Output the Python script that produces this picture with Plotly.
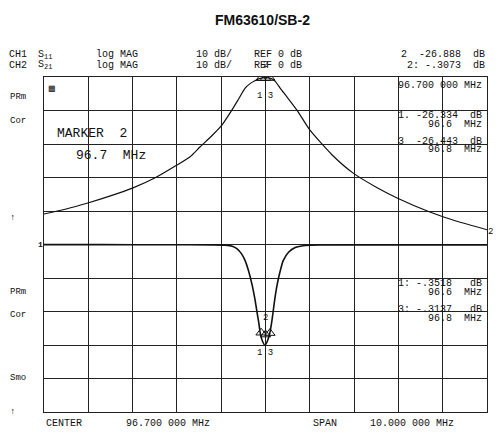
import plotly.graph_objects as go

W, H = 498, 441

# ---- data ----
# CH2 S21 (transmission, REF 0 dB at top line, 10 dB/div)
s21_freq = [91.70, 92.20, 92.69, 93.20, 93.71, 94.21, 94.70, 95.00, 95.22, 95.50, 95.72, 95.94,
            96.10, 96.24, 96.36, 96.46, 96.58, 96.70, 96.82, 96.92, 97.03, 97.20, 97.41, 97.70,
            98.20, 98.68, 99.20, 99.67, 100.41, 101.00, 101.70]
s21_db = [-40.9, -39.4, -37.6, -35.5, -33.1, -30.1, -26.3, -23.8, -20.9, -17.4, -14.3, -9.9,
          -6.4, -3.3, -1.9, -1.1, -0.4, -0.2, -0.4, -1.3, -3.3, -6.2, -9.9, -15.8,
          -23.2, -28.7, -32.9, -36.1, -40.3, -43.0, -45.6]

# CH1 S11 (reflection, REF 0 dB at centre line, 10 dB/div)
s11_freq = [91.70, 93.00, 94.50, 95.50, 95.79, 95.95, 96.06, 96.16, 96.24, 96.32, 96.40, 96.46,
            96.51, 96.55, 96.58, 96.63, 96.69, 96.75, 96.80, 96.84, 96.87, 96.91, 96.96,
            97.03, 97.10, 97.22, 97.37, 97.59, 98.00, 99.50, 101.70]
s11_db = [-0.05, -0.05, -0.08, -0.12, -0.2, -0.5, -1.3, -2.8, -4.8, -8.0, -12.2, -16.2,
          -20.3, -23.5, -26.3, -28.8, -30.1, -28.6, -26.3, -23.2, -20.3, -16.3, -12.2,
          -8.0, -4.8, -2.3, -0.9, -0.3, -0.15, -0.1, -0.1]

marker_freq = [96.6, 96.7, 96.8]
marker_s11 = [-26.334, -26.888, -26.443]
marker_s21 = [-0.3518, -0.3073, -0.3137]

center_mhz = 96.7
span_mhz = 10.0

# ---- figure ----
x0, x1 = 44, 487
y0, y1 = 77, 412

def px(x):
    return x / W

def py(y):
    return 1 - y / H

INK = "#111111"
FONT = "Liberation Mono"

fig = go.Figure()
fig.add_trace(go.Scatter(x=s21_freq, y=s21_db, yaxis="y2", mode="lines",
                         line=dict(color=INK, width=1.2, shape="spline", smoothing=0.6),
                         showlegend=False, hoverinfo="skip"))
fig.add_trace(go.Scatter(x=s11_freq, y=s11_db, yaxis="y", mode="lines",
                         line=dict(color=INK, width=1.6, shape="spline", smoothing=0.6),
                         showlegend=False, hoverinfo="skip"))
# marker symbols
fig.add_trace(go.Scatter(x=marker_freq, y=marker_s21, yaxis="y2", mode="markers",
                         marker=dict(symbol="triangle-up-open", size=9, color=INK, line=dict(width=1)),
                         showlegend=False, hoverinfo="skip"))
fig.add_trace(go.Scatter(x=marker_freq, y=marker_s11, yaxis="y", mode="markers",
                         marker=dict(symbol="triangle-up-open", size=9, color=INK, line=dict(width=1)),
                         showlegend=False, hoverinfo="skip"))

xr = [center_mhz - span_mhz / 2, center_mhz + span_mhz / 2]
fig.update_layout(
    width=W, height=H,
    margin=dict(l=0, r=0, t=0, b=0),
    paper_bgcolor="white", plot_bgcolor="white",
    xaxis=dict(domain=[px(x0), px(x1)], range=xr, tick0=xr[0], dtick=span_mhz / 10,
               showgrid=True, gridcolor="#222222", gridwidth=1, zeroline=False,
               showticklabels=False, ticks="", showline=True, linecolor="#222222",
               linewidth=1, mirror=True, fixedrange=True),
    yaxis=dict(domain=[py(y1), py(y0)], range=[-50, 50], dtick=10,
               showgrid=True, gridcolor="#222222", gridwidth=1, zeroline=False,
               showticklabels=False, ticks="", showline=True, linecolor="#222222",
               linewidth=1, mirror=True, fixedrange=True),
    yaxis2=dict(domain=[py(y1), py(y0)], range=[-100, 0], overlaying="y", side="right",
                showgrid=False, zeroline=False, showticklabels=False, ticks="",
                showline=False, fixedrange=True),
)

ann = []

def text(x, y, s, size=10, anchor="left", family=FONT, color=INK, **kw):
    ann.append(dict(x=px(x), y=py(y), xref="paper", yref="paper", text=s, showarrow=False,
                    xanchor=anchor, yanchor="middle",
                    font=dict(family=family, size=size, color=color), **kw))

# title
text(262, 20, "<b>FM63610/SB-2</b>", size=14, anchor="center", family="Liberation Sans")

# header rows
for yy, ch, s, val in [(55, "CH1", "S<sub>11</sub>", "2  -26.888  dB"),
                       (65, "CH2", "S<sub>21</sub>", "2: -.3073  dB")]:
    text(7, yy, ch)
    text(36, yy, s)
    text(94, yy, "log MAG")
    text(194, yy, "10 dB/")
    text(252, yy, "REF 0 dB")
    text(487, yy, val, anchor="right")

# left-side annotation labels
for yy, s in [(97, "PRm"), (121, "Cor"), (218, "↑"), (292, "PRm"), (315, "Cor"), (378, "Smo"), (412, "↑")]:
    text(8, yy, s, size=9)

# reference position indicators
text(40, 244, "<b>1</b>", size=8, anchor="center")
text(490, 232, "2", size=9, anchor="center")
text(52, 88, "▩", size=8, anchor="center")

# marker readouts (CH1)
text(484, 85, "96.700 000 MHz", anchor="right")
text(484, 115, "1. -26.334  dB", anchor="right", size=10)
text(484, 124, "96.6  MHz", anchor="right", size=10)
text(484, 141, "3  -26.443  dB", anchor="right", size=10)
text(484, 150, "96.8  MHz", anchor="right", size=10)
# marker readouts (CH2)
text(484, 283, "1: -.3518   dB", anchor="right", size=10)
text(484, 292, "96.6  MHz", anchor="right", size=10)
text(484, 309, "3: -.3137   dB", anchor="right", size=10)
text(484, 318, "96.8  MHz", anchor="right", size=10)

# marker box
text(55, 134, "MARKER  2", size=13)
text(74, 156, "96.7  MHz", size=13)

# marker labels near symbols
for yy, s in [(96, "1 3"), (65, "2"), (318, "2"), (353, "1 3")]:
    text(265, yy, s, size=9, anchor="center")

# bottom stimulus line
text(44, 423, "CENTER")
text(124, 423, "96.700 000 MHz")
text(311, 423, "SPAN")
text(368, 423, "10.000 000 MHz")

fig.update_layout(annotations=ann)

fig.write_html("out.html", config={"displayModeBar": False, "staticPlot": True},
               post_script="document.body.style.margin='0px';document.body.style.padding='0px';")
